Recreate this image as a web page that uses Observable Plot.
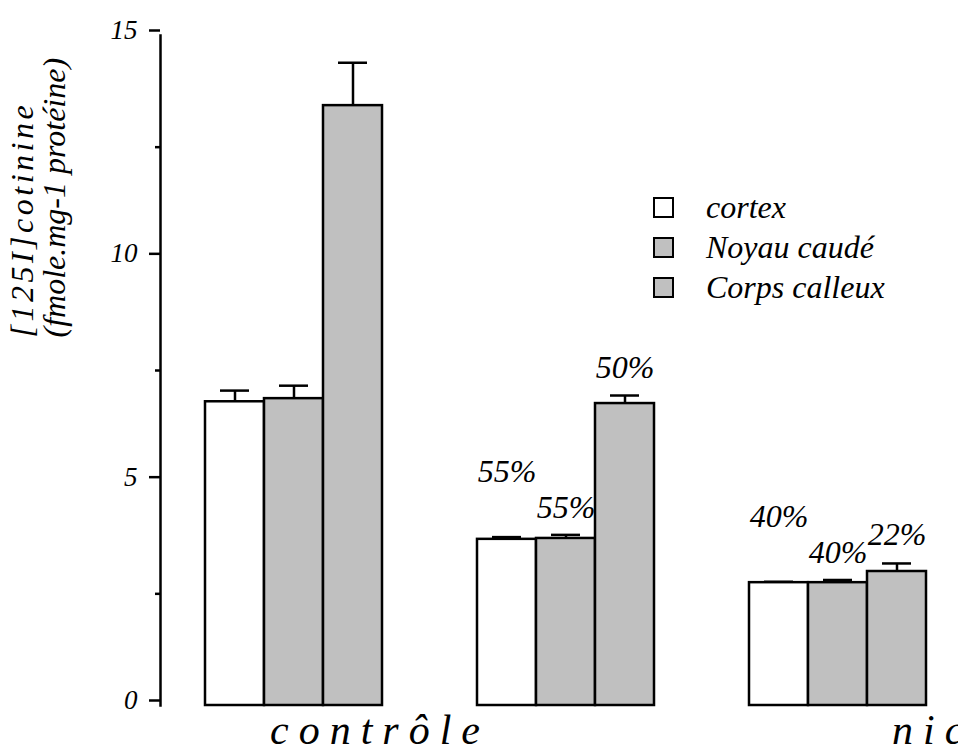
<!DOCTYPE html>
<html><head><meta charset="utf-8">
<script src="https://cdn.jsdelivr.net/npm/d3@7"></script>
<script src="https://cdn.jsdelivr.net/npm/@observablehq/plot@0.6"></script>
<style>
html,body{margin:0;padding:0;background:#fff;overflow:hidden;}
#wrap{position:relative;width:958px;height:751px;}
#legend{position:absolute;left:653px;top:187px;font-family:"Liberation Serif","Times New Roman",Times,serif;font-style:italic;font-size:32px;color:#000;}
.row{display:flex;align-items:center;height:40px;line-height:40px;white-space:nowrap;}
.sw{width:21px;height:21px;box-sizing:border-box;border:2.5px solid #000;margin-right:32px;}
</style></head><body><div id="wrap"></div>
<script>
const groups = ["contrôle", "groupe 2", "nicotine"];
const tissues = ["cortex", "Noyau caudé", "Corps calleux"];
const cortex = [6.80, 3.72, 2.75];
const cortexErr = [0.25, 0.05, 0.02];
const noyau = [6.87, 3.74, 2.75];
const noyauErr = [0.29, 0.08, 0.06];
const corps = [13.43, 6.76, 3.00];
const corpsErr = [0.96, 0.18, 0.18];
const cortexPct = [null, "55%", "40%"];
const noyauPct = [null, "55%", "40%"];
const corpsPct = [null, "50%", "22%"];
const groupLabels = ["contrôle", "nicotine"];
const yTicks = [0, 5, 10, 15];
const yMinorTicks = [2.5, 7.5, 12.5];
const yLabelLines = ["[125I]cotinine", "(fmole.mg-1 protéine)"];
const colors = ["#ffffff", "#c0c0c0", "#c0c0c0"];

const series = [[cortex, cortexErr, cortexPct], [noyau, noyauErr, noyauPct], [corps, corpsErr, corpsPct]];
const rows = [];
tissues.forEach((t, ti) => groups.forEach((g, gi) => rows.push({
  group: g, tissue: t, ti, value: series[ti][0][gi], err: series[ti][1][gi], pct: series[ti][2][gi]
})));

const bw = 59;
const serifStack = "'Liberation Serif', 'Times New Roman', Times, serif";
const font = {fontFamily: serifStack, fontStyle: "italic"};
const pctDy = [-55, -17, -18];
const marks = [];
tissues.forEach((t, ti) => {
  const d = rows.filter(r => r.ti === ti);
  marks.push(Plot.barY(d, {x: "group", y: "value", fill: colors[ti], stroke: "#000", strokeWidth: 2.5,
    insetLeft: ti * bw, insetRight: (2 - ti) * bw}));
  marks.push(Plot.ruleX(d, {x: "group", y1: "value", y2: r => r.value + r.err, dx: (ti - 1) * bw,
    stroke: "#000", strokeWidth: 2.5}));
  marks.push(Plot.tickY(d, {x: "group", y: r => r.value + r.err, insetLeft: ti * bw + 15,
    insetRight: (2 - ti) * bw + 15, stroke: "#000", strokeWidth: 2.5}));
  marks.push(Plot.text(d.filter(r => r.pct), {x: "group", y: r => r.value + r.err, text: "pct",
    dx: (ti - 1) * bw, dy: pctDy[ti], lineAnchor: "bottom", fontSize: 32, fill: "#000", ...font}));
});

const chart = Plot.plot({
  width: 958, height: 751,
  marginLeft: 160, marginTop: 35, marginBottom: 46, marginRight: 0,
  style: {background: "#fff", color: "#000", fontFamily: serifStack},
  x: {type: "band", domain: groups, range: [205, 926], paddingInner: 0.35, paddingOuter: 0, axis: null},
  y: {domain: [0, 15]},
  marks: [
    ...marks,
    Plot.frame({anchor: "left", stroke: "#000", strokeWidth: 2.5}),
    Plot.axisY(yTicks, {tickSize: 11, tickPadding: 12, strokeWidth: 2.5, fontSize: 27, dy: -5, label: null, fill: "#000", ...font}),
    Plot.axisY(yMinorTicks, {tickSize: 5, strokeWidth: 2.5, tickFormat: () => "", label: null}),
    Plot.text([yLabelLines.join("\n")], {frameAnchor: "left", rotate: -90, textAnchor: "start", lineAnchor: "top",
      lineHeight: 1.0, fontSize: 32, dx: -150, dy: -33, fill: "#000", ...font}),
    Plot.text([groupLabels[0]], {x: d => d, frameAnchor: "bottom", textAnchor: "start", lineAnchor: "bottom",
      dx: -24, dy: 38, fontSize: 42, fill: "#000", ...font}),
    Plot.text([groupLabels[1]], {x: d => d, frameAnchor: "bottom", textAnchor: "start", lineAnchor: "bottom",
      dx: 54, dy: 38, fontSize: 42, fill: "#000", ...font})
  ]
});
d3.select(chart).selectAll("text").filter(function () { return groupLabels.includes(this.textContent); })
  .attr("letter-spacing", 10);
d3.select(chart).selectAll("tspan").filter(function () { return this.textContent === yLabelLines[0]; })
  .attr("letter-spacing", 3.5);
const wrap = document.getElementById("wrap");
wrap.appendChild(chart);

const legend = document.createElement("div");
legend.id = "legend";
tissues.forEach((t, ti) => {
  const row = document.createElement("div");
  row.className = "row";
  const sw = document.createElement("div");
  sw.className = "sw";
  sw.style.background = colors[ti];
  const lab = document.createElement("span");
  lab.textContent = t;
  row.appendChild(sw); row.appendChild(lab);
  legend.appendChild(row);
});
wrap.appendChild(legend);
</script></body></html>
